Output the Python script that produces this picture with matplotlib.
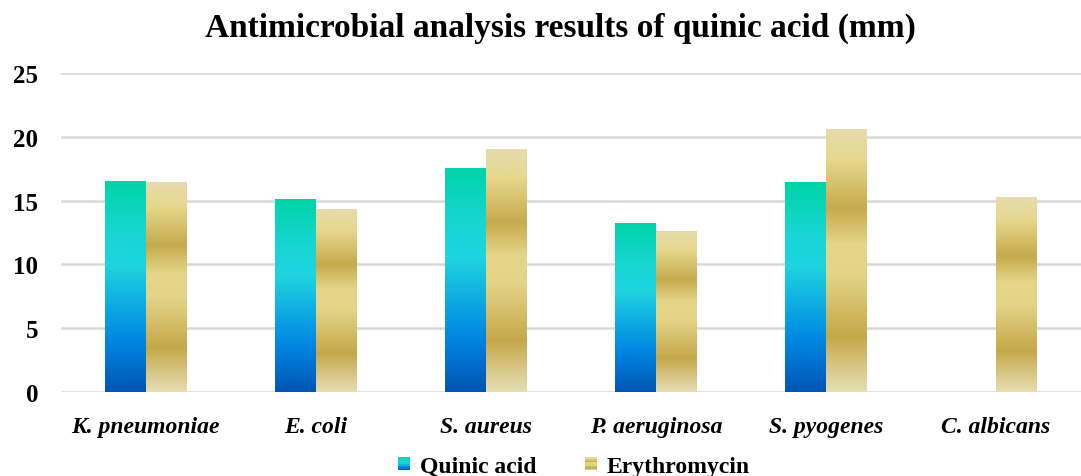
import numpy as np
import matplotlib.pyplot as plt
from matplotlib.colors import LinearSegmentedColormap
from matplotlib.patches import Rectangle
from matplotlib.legend_handler import HandlerBase

categories = ['K. pneumoniae', 'E. coli', 'S. aureus', 'P. aeruginosa', 'S. pyogenes', 'C. albicans']
quinic = [16.5, 15.1, 17.5, 13.2, 16.4, 0]
erythro = [16.4, 14.3, 19.0, 12.6, 20.6, 15.2]
series_names = ['Quinic acid', 'Erythromycin']

# gradients go bottom -> top
blue_cmap = LinearSegmentedColormap.from_list('blue', [
    (0.0, '#0055b5'), (0.25, '#0088e4'), (0.6, '#1ed4e0'), (0.75, '#18d6d4'), (1.0, '#00d4a8')])
gold_cmap = LinearSegmentedColormap.from_list('gold', [
    (0.0, '#e7deb4'), (0.21, '#c5a84a'), (0.45, '#e4d488'), (0.56, '#e5d68a'),
    (0.70, '#c6aa4c'), (0.88, '#e6d78c'), (1.0, '#e6dcac')])

plt.rcParams['font.family'] = 'Liberation Serif'
fig = plt.figure(figsize=(10.81, 4.77), dpi=100)
ax = fig.add_axes([0.056, 0.176, 0.944, 0.669])

x = np.arange(len(categories))
w = 0.24
grad = np.linspace(0, 1, 256).reshape(-1, 1)

def gradient_bar(xc, h, cmap):
    if h <= 0:
        return
    ax.imshow(grad, cmap=cmap, origin='lower', aspect='auto',
              extent=[xc - w / 2, xc + w / 2, 0, h], zorder=3)

for i in range(len(categories)):
    gradient_bar(x[i] - w / 2, quinic[i], blue_cmap)
    gradient_bar(x[i] + w / 2, erythro[i], gold_cmap)

ax.set_xlim(-0.5, len(categories) - 0.5)
ax.set_ylim(0, 25)
ax.set_yticks(range(0, 26, 5))
ax.grid(axis='y', color='#d9d9d9', linewidth=1.8, zorder=0)
ax.set_axisbelow(True)
for s in ax.spines.values():
    s.set_visible(False)
ax.tick_params(axis='both', length=0)
ax.tick_params(axis='y', labelsize=18, pad=16)
for t in ax.get_yticklabels():
    t.set_fontweight('bold')
ax.set_xticks(x)
ax.set_xticklabels(categories, fontsize=17, fontweight='bold', fontstyle='italic')
ax.tick_params(axis='x', pad=25)
for t in ax.get_xticklabels():
    t.set_verticalalignment('center')

fig.text(0.518, 0.941, 'Antimicrobial analysis results of quinic acid (mm)', fontsize=24,
         fontweight='bold', ha='center', va='center')

class GradHandler(HandlerBase):
    def __init__(self, cmap):
        super().__init__()
        self.cmap = cmap

    def create_artists(self, legend, orig_handle, xd, yd, width, height, fontsize, trans):
        n = 8
        size = height * 0.75
        x0 = xd + width - size
        y0 = yd + (height - size) / 2
        arts = []
        for k in range(n):
            r = Rectangle((x0, y0 + k * size / n), size, size / n + 0.3,
                          facecolor=self.cmap((k + 0.5) / n), edgecolor='none', transform=trans)
            arts.append(r)
        return arts

h1 = Rectangle((0, 0), 1, 1)
h2 = Rectangle((0, 0), 1, 1)
fig.legend([h1, h2], series_names, loc='center', bbox_to_anchor=(0.53, 0.02), ncol=2,
           frameon=False, prop={'weight': 'bold', 'size': 17}, handlelength=0.6,
           handletextpad=0.4, columnspacing=2.0,
           handler_map={h1: GradHandler(blue_cmap), h2: GradHandler(gold_cmap)})

fig.savefig('out.png', dpi=100)
